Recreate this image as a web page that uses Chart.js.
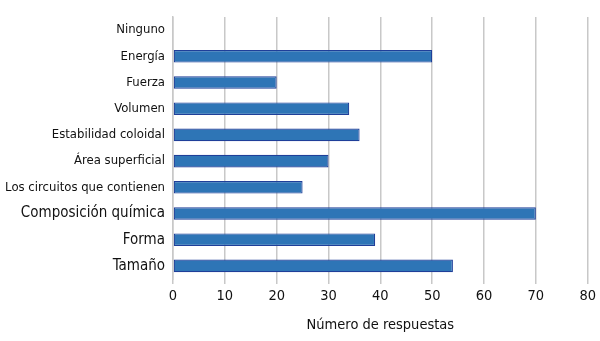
<!DOCTYPE html>
<html>
<head>
<meta charset="utf-8">
<script src="https://cdn.jsdelivr.net/npm/chart.js@4"></script>
<style>
  html, body { margin: 0; padding: 0; background: #fff; }
  #wrap { width: 600px; height: 341px; }
</style>
</head>
<body>
<div id="wrap"><canvas id="c" width="600" height="341"></canvas></div>
<script>
// Response categories, top to bottom
const categories = [
  "Ninguno",
  "Energía",
  "Fuerza",
  "Volumen",
  "Estabilidad coloidal",
  "Área superficial",
  "Los circuitos que contienen",
  "Composición química",
  "Forma",
  "Tamaño"
];
// Number of responses per category
const responses = [0, 50, 20, 34, 36, 30, 25, 70, 39, 54];
// Horizontal axis ticks
const xTicks = [0, 10, 20, 30, 40, 50, 60, 70, 80];
const xTitle = "Número de respuestas";

const FONT = "'DejaVu Sans Condensed', 'DejaVu Sans', sans-serif";

new Chart(document.getElementById("c"), {
  type: "bar",
  data: {
    labels: categories,
    datasets: [{
      data: responses,
      backgroundColor: "#2E75B6",
      borderColor: "#1F3F99",
      borderWidth: 1.2,
      borderSkipped: false,
      barPercentage: 0.48,
      categoryPercentage: 1.0
    }]
  },
  options: {
    indexAxis: "y",
    responsive: false,
    animation: false,
    layout: { padding: { top: 17, right: 12, left: 0, bottom: 0 } },
    plugins: { legend: { display: false }, tooltip: { enabled: false } },
    scales: {
      x: {
        min: xTicks[0],
        max: xTicks[xTicks.length - 1],
        afterBuildTicks: s => { s.ticks = xTicks.map(v => ({ value: v })); },
        afterFit: s => { s.height = 62; },
        grid: { color: "#c8c8c8", lineWidth: 1.5, tickLength: 5, drawTicks: true },
        border: { display: false },
        ticks: { color: "#111", font: { family: FONT, size: 14.5 }, padding: 4 },
        title: { display: true, text: xTitle, color: "#111", font: { family: FONT, size: 14.5 }, padding: { top: 4, bottom: 7 } }
      },
      y: {
        afterFit: s => { s.width = 173; },
        grid: { display: false, drawTicks: false },
        border: { display: true, color: "#c8c8c8", width: 1.5 },
        ticks: {
          color: "#111",
          padding: 8,
          font: ctx => ({ family: FONT, size: ctx.index >= 7 ? 15 : 13 })
        }
      }
    }
  }
});
</script>
</body>
</html>
